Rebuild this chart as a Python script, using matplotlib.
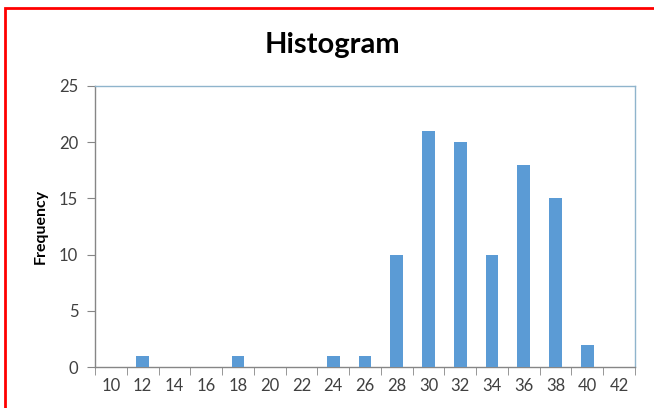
import matplotlib.pyplot as plt
from matplotlib.patches import Rectangle

# histogram bins (upper edges) and counts
bins = [10, 12, 14, 16, 18, 20, 22, 24, 26, 28, 30, 32, 34, 36, 38, 40, 42]
counts = [0, 1, 0, 0, 1, 0, 0, 1, 1, 10, 21, 20, 10, 18, 15, 2, 0]
y_ticks = [0, 5, 10, 15, 20, 25]

W, H = 654, 408
fig = plt.figure(figsize=(W / 100, H / 100), dpi=100)
plt.rcParams['font.family'] = ['Lato', 'DejaVu Sans']

left, right, top, bottom = 95, 635, 86, 367
ax = fig.add_axes([left / W, 1 - bottom / H, (right - left) / W, (bottom - top) / H])

x = list(range(len(bins)))
ax.bar(x, counts, width=0.4, color='#5b9bd5', zorder=3)

ax.set_xlim(-0.5, len(bins) - 0.5)
ax.set_ylim(0, 25)
ax.set_yticks(y_ticks)
ax.set_yticklabels([str(v) for v in y_ticks])
ax.set_xticks(x)
ax.set_xticklabels([str(b) for b in bins])
ax.set_xticks([i + 0.5 for i in range(-1, len(bins))], minor=True)

ax.tick_params(axis='x', which='major', length=0, labelsize=12, colors='#404040', pad=8)
ax.tick_params(axis='x', which='minor', length=6, color='#868686', direction='out')
ax.tick_params(axis='y', length=6, color='#868686', labelsize=12, labelcolor='#404040', pad=6)

for s in ['left', 'bottom']:
    ax.spines[s].set_color('#868686')
for s in ['top', 'right']:
    ax.spines[s].set_color('#8fb4cc')
for s in ax.spines.values():
    s.set_linewidth(1)

ax.set_ylabel('Frequency', fontsize=11.5, fontweight='bold', color='#000000', labelpad=8)
fig.text(332 / W, 1 - 45 / H, 'Histogram', ha='center', va='center',
         fontsize=21, fontweight='bold', color='#000000')

# red frame on left and top
fig.patches.append(Rectangle((5.5 / W, -0.1), 1.2, (H - 8) / H + 0.1,
                             transform=fig.transFigure, fill=False,
                             edgecolor='#ff0000', linewidth=2))

fig.savefig('out.png', dpi=100)
